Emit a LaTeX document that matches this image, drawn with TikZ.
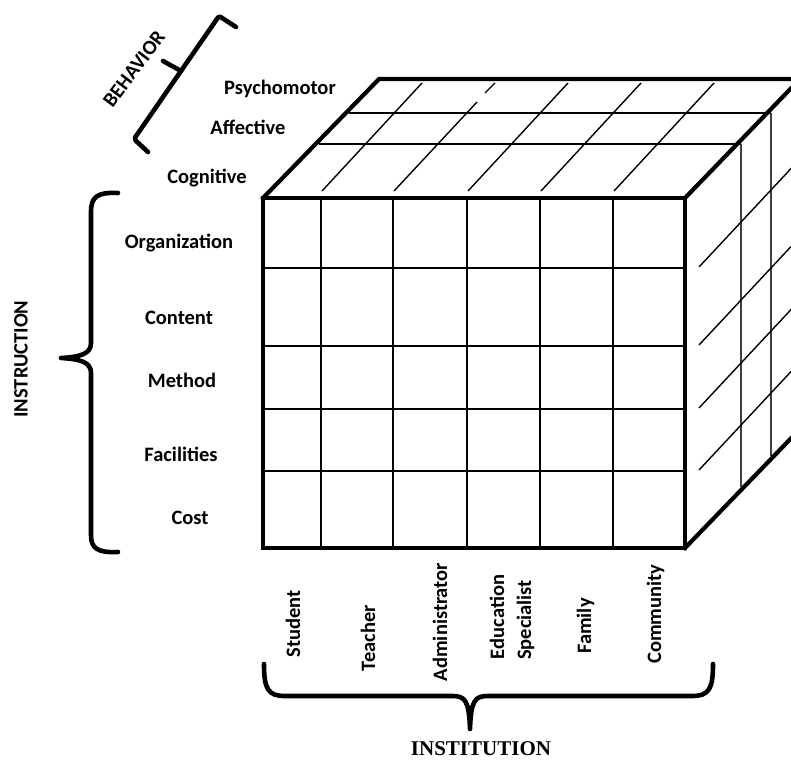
\documentclass[tikz,border=0pt]{standalone}
\usepackage{fontspec}
\setmainfont{Carlito}
\newfontfamily\serifbold{Liberation Serif}
\begin{document}
\begin{tikzpicture}[x=1pt,y=-1pt,
  lab/.style={font=\bfseries\fontsize{20.5}{25}\selectfont, inner sep=0pt},
  toplab/.style={lab, anchor=base},
  collab/.style={lab, rotate=90, anchor=base},
  heavyedge/.style={line width=4.2pt, line join=miter, line cap=rect},
  gridline/.style={line width=1.4pt},
  sideline/.style={line width=1.4pt, black!75},
  bracestyle/.style={line width=4.6pt, line cap=round, line join=round}]
\useasboundingbox (0,0) rectangle (791,760);

% cube corners
\coordinate (FTL) at (263,198);
\coordinate (FTR) at (685,198);
\coordinate (FBR) at (685,548);
\coordinate (FBL) at (263,548);
\coordinate (BTL) at (379,79);
\coordinate (BTR) at (800,79);
\coordinate (BBR) at (800,429);

\begin{scope}
\clip (0,0) rectangle (791,760);
% top face: depth-layer lines
\coordinate (L1a) at (349,113); \coordinate (L1b) at (771,113);
\coordinate (L2a) at (319,144); \coordinate (L2b) at (741,144);
\draw[gridline] (L1a) -- (L1b);
\draw[gridline] (L2a) -- (L2b);
% top face: column lines
\foreach \cx/\nm in {321/a,467/c,540/d,613/e}{
  \coordinate (T\nm1) at (\cx+1,191);
  \coordinate (T\nm2) at (\cx+101,83);
  \draw[gridline] (T\nm1) -- (T\nm2);
}
\coordinate (Tb1) at (394,191); \coordinate (Tb2) at (477,102);
\coordinate (Tb3) at (485,93);  \coordinate (Tb4) at (495,83);
\draw[gridline] (Tb1) -- (Tb2);
\draw[gridline] (Tb3) -- (Tb4);
% right face: verticals
\coordinate (V1b) at (771,456);
\coordinate (V2b) at (741,487);
\draw[sideline] (L1b) -- (V1b);
\draw[sideline] (L2b) -- (V2b);
% right face: row lines in depth
\foreach \ry/\nm in {267/a,345/b,408/c,470/d}{
  \coordinate (R\nm1) at (699,\ry);
  \coordinate (R\nm2) at (799,\ry-107);
  \draw[gridline] (R\nm1) -- (R\nm2);
}
% front face grid
\foreach \cx in {321,393,467,540,613}{
  \coordinate (FV\cx a) at (\cx,198);
  \coordinate (FV\cx b) at (\cx,548);
  \draw[gridline] (FV\cx a) -- (FV\cx b);
}
\foreach \ry in {268,346,409,471}{
  \coordinate (FH\ry a) at (263,\ry);
  \coordinate (FH\ry b) at (685,\ry);
  \draw[gridline] (FH\ry a) -- (FH\ry b);
}
% heavy edges
\draw[heavyedge] (FTL) -- (BTL) -- (BTR);
\draw[heavyedge] (FTR) -- (BTR);
\draw[heavyedge] (FBR) -- (BBR);
\draw[heavyedge] (FTL) rectangle (FBR);
\end{scope}

% behavior labels
\node[toplab] (psy) at (280,94) {Psychomotor};
\node[toplab] (aff) at (248,134) {Affective};
\node[toplab] (cog) at (207,183) {Cognitive};

% instruction labels
\node[toplab] (org) at (179,248) {Organization};
\node[toplab] (con) at (179,324) {Content};
\node[toplab] (met) at (182,387) {Method};
\node[toplab] (fac) at (181,461) {Facilities};
\node[toplab] (cst) at (190,524) {Cost};

% institution labels
\node[collab] (stu) at (300,624) {Student};
\node[collab] (tea) at (375,638) {Teacher};
\node[collab] (adm) at (447,622) {Administrator};
\node[collab] (edu) at (504,617) {Education};
\node[collab] (spe) at (531,620) {Specialist};
\node[collab] (fam) at (591,626) {Family};
\node[collab] (com) at (661,614) {Community};

% group titles
\node[lab, rotate=53] (beh) at (134,69) {BEHAVIOR};
\node[lab, rotate=90] (ins) at (21,359) {INSTRUCTION};
\node[inner sep=0pt, font=\serifbold\bfseries\fontsize{21}{24}\selectfont] (itn) at (481,749) {INSTITUTION};

% behavior bracket
\coordinate (bb1) at (236,27);
\coordinate (bb2) at (219,16);
\coordinate (bb3) at (134,139);
\coordinate (bb4) at (148,152);
\coordinate (bt1) at (181,71);
\coordinate (bt2) at (163,61);
\draw[bracestyle, rounded corners=2pt] (bb1) -- (bb2) -- (bb3) -- (bb4);
\draw[bracestyle] (bt1) -- (bt2);

% instruction brace
\coordinate (ib1) at (118,193);
\coordinate (ibt) at (61,358);
\coordinate (ib2) at (118,552);
\draw[bracestyle] (ib1) .. controls (97,192) and (91,197) .. (91,212)
  -- (91,343) .. controls (91,354) and (80,357) .. (ibt)
  .. controls (80,359) and (91,362) .. (91,373)
  -- (91,535) .. controls (91,548) and (97,553) .. (ib2);

% institution brace
\coordinate (jb1) at (264,664);
\coordinate (jbt) at (470,729);
\coordinate (jb2) at (713,664);
\draw[bracestyle] (jb1) .. controls (264,689) and (268,696) .. (285,696)
  -- (452,696) .. controls (465,696) and (469,700) .. (jbt)
  .. controls (471,700) and (475,696) .. (488,696)
  -- (692,696) .. controls (709,696) and (713,689) .. (jb2);
\end{tikzpicture}
\end{document}
